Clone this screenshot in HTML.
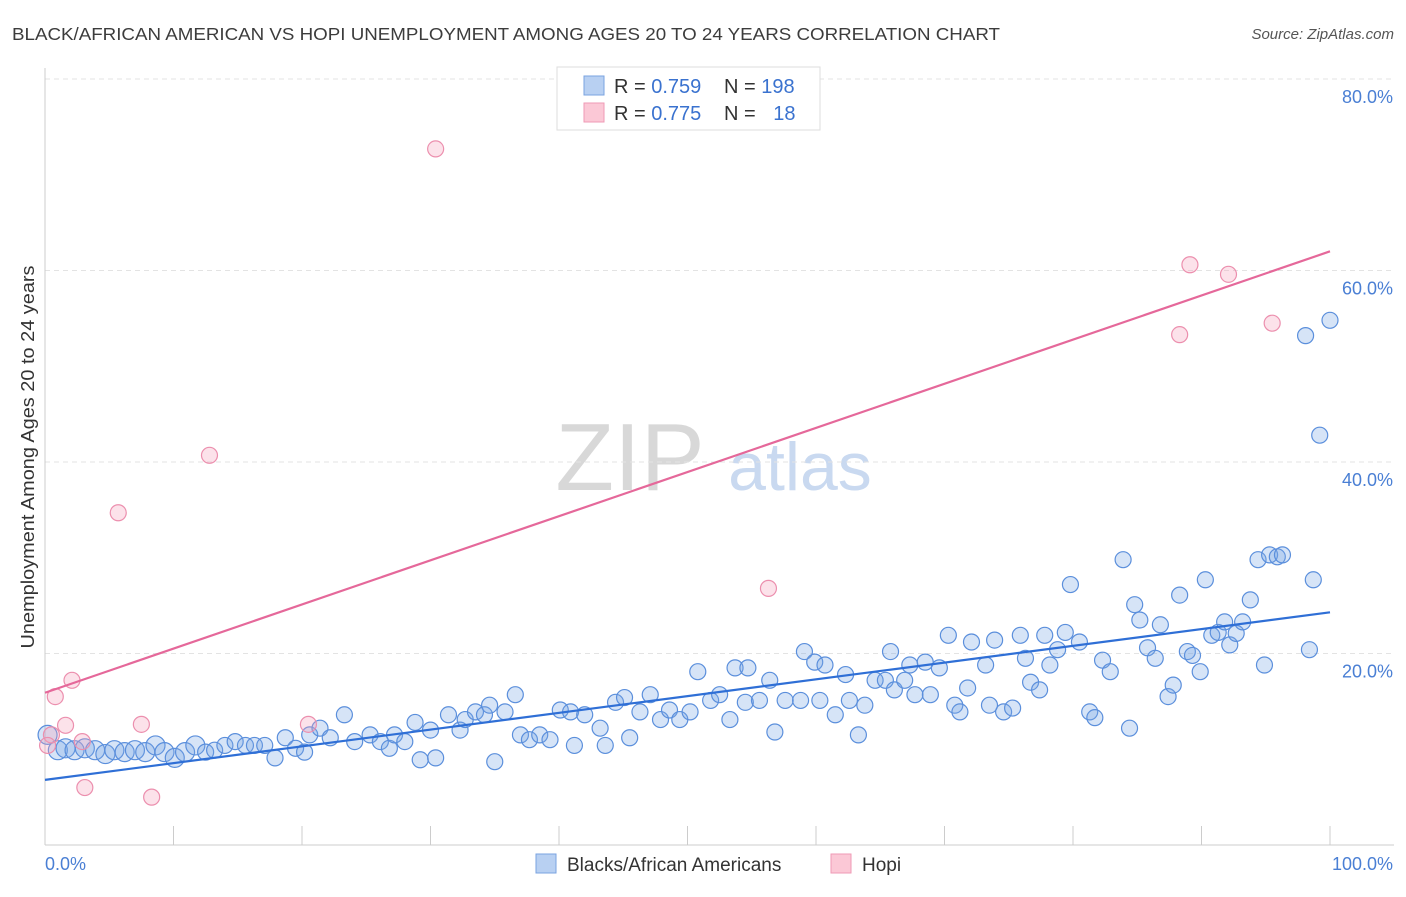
<!DOCTYPE html>
<html><head><meta charset="utf-8"><style>
body{margin:0;background:#fff;font-family:"Liberation Sans",sans-serif;}
svg text{font-family:"Liberation Sans",sans-serif;}
</style></head><body>
<svg id="chart" width="1406" height="892" xmlns="http://www.w3.org/2000/svg">
<text x="12" y="40" font-size="17.5" textLength="988" lengthAdjust="spacingAndGlyphs" fill="#3c3c3c">BLACK/AFRICAN AMERICAN VS HOPI UNEMPLOYMENT AMONG AGES 20 TO 24 YEARS CORRELATION CHART</text>
<text x="1394" y="39" font-size="15" fill="#555" text-anchor="end" font-style="italic">Source: ZipAtlas.com</text>
<g>
<text x="630" y="490" font-size="96" fill="#d8d8d8" text-anchor="middle" font-family="Liberation Serif">ZIP</text>
<text x="800" y="490" font-size="68" fill="#c9d9f0" text-anchor="middle">atlas</text>
</g>
<g id="grid"></g><g id="axes"></g><g id="marks"></g>
<text transform="translate(34,457) rotate(-90)" font-size="18" textLength="383" lengthAdjust="spacingAndGlyphs" fill="#333" text-anchor="middle">Unemployment Among Ages 20 to 24 years</text>
<g>
<rect x="557" y="67" width="263" height="63" fill="#fff" stroke="#ddd"/>
<rect x="584" y="76" width="20" height="19" fill="#b8d0f2" stroke="#7aa3e0"/>
<rect x="584" y="103" width="20" height="19" fill="#fbc8d6" stroke="#ef9ab5"/>
<text x="614" y="93" font-size="20" fill="#333">R = <tspan fill="#3a72cf">0.759</tspan></text>
<text x="724" y="93" font-size="20" fill="#333">N = <tspan fill="#3a72cf">198</tspan></text>
<text x="614" y="120" font-size="20" fill="#333">R = <tspan fill="#3a72cf">0.775</tspan></text>
<text x="724" y="120" font-size="20" fill="#333">N = <tspan fill="#3a72cf" dx="12">18</tspan></text>
</g>
<g>
<rect x="536" y="854" width="20" height="19" fill="#b8d0f2" stroke="#7aa3e0"/>
<text x="567" y="871" font-size="19" fill="#333">Blacks/African Americans</text>
<rect x="831" y="854" width="20" height="19" fill="#fbc8d6" stroke="#ef9ab5"/>
<text x="862" y="871" font-size="19" fill="#333">Hopi</text>
</g>
</svg>
<script>
const blueX=[0.2,1.0,1.6,2.3,3.1,3.9,4.7,5.4,6.2,7.0,7.8,8.6,9.3,10.1,10.9,11.7,12.5,13.2,14.0,14.8,15.6,16.3,17.1,17.9,18.7,19.5,20.2,20.6,21.4,22.2,23.3,24.1,25.3,26.1,26.8,27.2,28.0,28.8,29.2,30.0,30.4,31.4,32.3,32.7,33.5,34.2,34.6,35.0,35.8,36.6,37.0,37.7,38.5,39.3,40.1,40.9,41.2,42.0,43.2,43.6,44.4,45.1,45.5,46.3,47.1,47.9,48.6,49.4,50.2,50.8,51.8,52.5,53.3,53.7,54.5,54.7,55.6,56.4,56.8,57.6,58.8,59.1,59.9,60.3,60.7,61.5,62.3,62.6,63.3,63.8,64.6,65.4,65.8,66.1,66.9,67.3,67.7,68.5,68.9,69.6,70.3,70.8,71.2,71.8,72.1,73.2,73.5,73.9,74.6,75.3,75.9,76.3,76.7,77.4,77.8,78.2,78.8,79.4,79.8,80.5,81.3,81.7,82.3,82.9,83.9,84.4,84.8,85.2,85.8,86.4,86.8,87.4,87.8,88.3,88.9,89.3,89.9,90.3,90.8,91.3,91.8,92.2,92.7,93.2,93.8,94.4,94.9,95.3,95.9,96.3,98.1,98.4,98.7,99.2,100];
const blueY=[11.5,9.9,10.1,9.9,10.1,9.9,9.5,9.9,9.7,9.9,9.7,10.4,9.7,9.1,9.7,10.4,9.7,9.9,10.4,10.8,10.4,10.4,10.4,9.1,11.2,10.1,9.7,11.5,12.2,11.2,13.6,10.8,11.5,10.8,10.1,11.5,10.8,12.8,8.9,12.0,9.1,13.6,12.0,13.1,13.9,13.6,14.6,8.7,13.9,15.7,11.5,11.0,11.5,11.0,14.1,13.9,10.4,13.6,12.2,10.4,14.9,15.4,11.2,13.9,15.7,13.1,14.1,13.1,13.9,18.1,15.1,15.7,13.1,18.5,14.9,18.5,15.1,17.2,11.8,15.1,15.1,20.2,19.1,15.1,18.8,13.6,17.8,15.1,11.5,14.6,17.2,17.2,20.2,16.2,17.2,18.8,15.7,19.1,15.7,18.5,21.9,14.6,13.9,16.4,21.2,18.8,14.6,21.4,13.9,14.3,21.9,19.5,17.0,16.2,21.9,18.8,20.4,22.2,27.2,21.2,13.9,13.3,19.3,18.1,29.8,12.2,25.1,23.5,20.6,19.5,23.0,15.5,16.7,26.1,20.2,19.8,18.1,27.7,21.9,22.2,23.3,20.9,22.1,23.3,25.6,29.8,18.8,30.3,30.1,30.3,53.2,20.4,27.7,42.8,54.8];
const pinkX=[0.8,2.1,0.5,1.6,2.9,3.1,5.7,7.5,8.3,12.8,20.5,30.4,56.3,88.3,89.1,92.1,95.5,0.2];
const pinkY=[15.5,17.2,11.5,12.5,10.8,6.0,34.7,12.6,5.0,40.7,12.6,72.7,26.8,53.3,60.6,59.6,54.5,10.4];
const blueFit=[6.8,24.3];
const pinkFit=[15.9,62.0];
const yTicks=[20,40,60,80];
const yTickLabels=["20.0%","40.0%","60.0%","80.0%"];
const xTicks=[0,10,20,30,40,50,60,70,80,90,100];

const NS="http://www.w3.org/2000/svg";
const X0=45,X1=1330,Y0=845,YPER=9.575;
const sx=v=>X0+(X1-X0)*v/100;
const sy=v=>Y0-v*YPER;
function mk(tag,attrs,parent){const e=document.createElementNS(NS,tag);for(const k in attrs)e.setAttribute(k,attrs[k]);parent.appendChild(e);return e;}
const grid=document.getElementById('grid'),axes=document.getElementById('axes'),marks=document.getElementById('marks');
yTicks.forEach((t,i)=>{
 const l=mk('line',{x1:45,x2:1394,y1:sy(t),y2:sy(t),stroke:'#e3e3e3','stroke-dasharray':'5,4'},grid);
 
 
 const tx=mk('text',{x:1393,y:sy(t)+24,'font-size':18,fill:'#4a7fd4','text-anchor':'end'},axes);
 tx.textContent=yTickLabels[i];
 
 
});
const ax=mk('line',{x1:45,x2:1394,y1:Y0,y2:Y0,stroke:'#ccc'},axes);


const ay=mk('line',{x1:45,x2:45,y1:68,y2:Y0,stroke:'#ccc'},axes);


xTicks.forEach(t=>{
 const l=mk('line',{x1:sx(t),x2:sx(t),y1:826,y2:Y0,stroke:'#ccc'},axes);
 
 
});
const xl0=mk('text',{x:45,y:870,'font-size':18,fill:'#4a7fd4'},axes);xl0.textContent="0.0%";


const xl1=mk('text',{x:1393,y:870,'font-size':18,fill:'#4a7fd4','text-anchor':'end'},axes);xl1.textContent="100.0%";


blueX.forEach((x,i)=>{
 const c=mk('circle',{cx:sx(x),cy:sy(blueY[i]),r:x<12?9.5:8,fill:'rgba(120,165,230,0.3)',stroke:'#5b8fdc','stroke-width':1.2},marks);
 
 
});
pinkX.forEach((x,i)=>{
 const c=mk('circle',{cx:sx(x),cy:sy(pinkY[i]),r:8,fill:'rgba(245,160,185,0.3)',stroke:'#ec8fae','stroke-width':1.2},marks);
 
 
});
const bl=mk('line',{x1:sx(0),y1:sy(blueFit[0]),x2:sx(100),y2:sy(blueFit[1]),stroke:'#2f6fd6','stroke-width':2.2},marks);


const pl=mk('line',{x1:sx(0),y1:sy(pinkFit[0]),x2:sx(100),y2:sy(pinkFit[1]),stroke:'#e5689a','stroke-width':2.2},marks);


</script>
</body></html>
